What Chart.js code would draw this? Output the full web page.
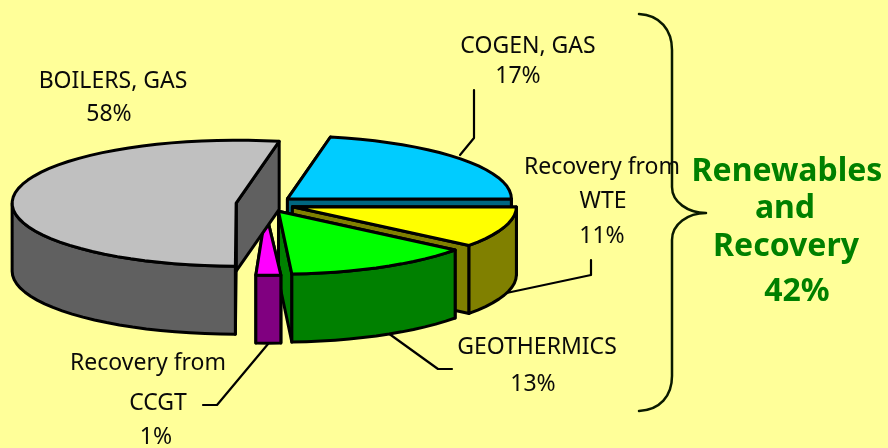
<!DOCTYPE html>
<html><head><meta charset="utf-8">
<style>html,body{margin:0;padding:0;background:#FFFF99}canvas{display:block}</style>
<script src="https://cdn.jsdelivr.net/npm/chart.js@4"></script></head>
<body><canvas id="c" width="888" height="448"></canvas>
<script>
// data, in drawing order round the pie
const categories = ["COGEN, GAS", "Recovery from WTE", "GEOTHERMICS", "Recovery from CCGT", "BOILERS, GAS"];
const shares = [17, 11, 13, 1, 58];
const topColors = ["#00CCFF", "#FFFF00", "#00FF00", "#FF00FF", "#C0C0C0"];
const wallColors = ["#006680", "#808000", "#008000", "#800080", "#606060"];
const summaryLines = ["Renewables", "and", "Recovery", "42%"];

// look of the projected pie
const RX = 224, RY = 63, DEPTH = 68, EXPLODE = 29, WARP = 25 * Math.PI / 180;
const MIN_SWEEP = 6.4 * Math.PI / 180;
const FONT = '23px "Noto Sans"';
const BOLD = 'bold 32px "Noto Sans"';
const INK = "#000000", TEXT = "#0a0a0a", GREEN = "#008000";

// where each label's lines go [centre x, middle y]
const labelPlaces = [
  [[528, 46], [518, 76]],
  [[602, 167], [603, 201], [602, 236]],
  [[537, 347], [533, 384]],
  [[148, 363], [158, 403], [156, 437]],
  [[113, 81], [109, 114]]
];
const summaryPlaces = [[787, 172], [785, 209], [786, 247], [797, 292]];
const leaders = [
  [[474, 90], [474, 138], [460, 155]],
  [[591, 260], [591, 275], [497, 295]],
  [[388, 333], [438, 369], [452, 369]],
  [[268, 344], [217, 405], [203, 405]]
];

function labelLines(i) {
  const name = categories[i], pct = shares[i] + "%";
  const m = name.match(/^(Recovery from) (.+)$/);
  return m ? [m[1], m[2], pct] : [name, pct];
}
// mild perspective stretch of the far side of the disc
function warp(a) {
  const s = Math.sin(a);
  return a - WARP * s * s * (1 - s) / 2;
}

const pie3d = {
  id: "pie3d",
  beforeDatasetsDraw(chart) {
    const ctx = chart.ctx;
    ctx.save();
    ctx.lineJoin = "round"; ctx.lineCap = "round";
    // bracket
    ctx.strokeStyle = "#0a1a00"; ctx.lineWidth = 2.5;
    ctx.beginPath();
    ctx.moveTo(639, 14);
    ctx.bezierCurveTo(660, 15, 672, 30, 672, 50);
    ctx.lineTo(672, 187);
    ctx.bezierCurveTo(672, 202, 688, 213, 706, 213);
    ctx.bezierCurveTo(688, 213, 672, 224, 672, 240);
    ctx.lineTo(672, 376);
    ctx.bezierCurveTo(672, 396, 660, 410, 639, 411);
    ctx.stroke();
    // leaders
    ctx.strokeStyle = INK; ctx.lineWidth = 2.2;
    leaders.forEach(l => {
      ctx.beginPath();
      l.forEach((p, k) => k ? ctx.lineTo(p[0], p[1]) : ctx.moveTo(p[0], p[1]));
      ctx.stroke();
    });
    // slices
    ctx.lineWidth = 3; ctx.strokeStyle = INK;
    chart.getDatasetMeta(0).data.forEach((arc, i) => {
      const p = arc.getProps(["x", "y", "startAngle", "endAngle", "outerRadius"]);
      const cx0 = p.x, cy0 = p.y;
      let a0 = warp(p.startAngle), a1 = warp(p.endAngle);
      const mid = (a0 + a1) / 2;
      // very thin slices keep a visible width
      if (a1 - a0 < MIN_SWEEP) { a0 = mid - MIN_SWEEP * 0.35; a1 = mid + MIN_SWEEP * 0.65; }
      const cx = cx0 + Math.cos(mid) * EXPLODE, cy = cy0 + Math.sin(mid) * EXPLODE * RY / RX;
      const pt = (a, dz) => [cx + Math.cos(a) * RX, cy + Math.sin(a) * RY + (dz || 0)];
      const fillPoly = (pts, col) => {
        ctx.beginPath();
        pts.forEach((q, k) => k ? ctx.lineTo(q[0], q[1]) : ctx.moveTo(q[0], q[1]));
        ctx.closePath(); ctx.fillStyle = col; ctx.fill(); ctx.stroke();
      };
      const arcPts = (from, to, dz) => {
        const n = Math.max(1, Math.ceil(Math.abs(to - from) / (4 * Math.PI / 180)));
        const out = [];
        for (let k = 0; k <= n; k++) out.push(pt(from + (to - from) * k / n, dz));
        return out;
      };
      const col = wallColors[i];
      // radial faces, far one first
      const edges = [a0, a1].sort((u, v) => Math.sin(u) - Math.sin(v));
      edges.forEach(a => {
        const e = pt(a), c = [cx, cy];
        fillPoly([c, e, [e[0], e[1] + DEPTH], [cx, cy + DEPTH]], col);
      });
      // outer wall, only where it faces the viewer
      const twoPi = Math.PI * 2;
      for (let k = -1; k <= 1; k++) {
        const from = Math.max(a0, k * twoPi), to = Math.min(a1, k * twoPi + Math.PI);
        if (to > from) fillPoly(arcPts(from, to, 0).concat(arcPts(to, from, DEPTH)), col);
      }
      // top
      fillPoly([[cx, cy]].concat(arcPts(a0, a1, 0)), topColors[i]);
    });
    // labels
    ctx.textAlign = "center"; ctx.textBaseline = "middle";
    ctx.fillStyle = TEXT; ctx.font = FONT;
    categories.forEach((_, i) => {
      labelLines(i).forEach((t, k) => ctx.fillText(t, labelPlaces[i][k][0], labelPlaces[i][k][1]));
    });
    ctx.fillStyle = GREEN; ctx.font = BOLD;
    summaryLines.forEach((t, k) => ctx.fillText(t, summaryPlaces[k][0], summaryPlaces[k][1]));
    ctx.restore();
    return false;
  }
};

new Chart(document.getElementById("c"), {
  type: "pie",
  data: { labels: categories, datasets: [{ data: shares, backgroundColor: topColors, borderWidth: 0 }] },
  options: {
    responsive: false, animation: false, rotation: 29,
    layout: { padding: { left: 0, right: 358, top: 0, bottom: 40 } },
    plugins: { legend: { display: false }, tooltip: { enabled: false }, title: { display: false } }
  },
  plugins: [pie3d]
});
</script></body></html>
